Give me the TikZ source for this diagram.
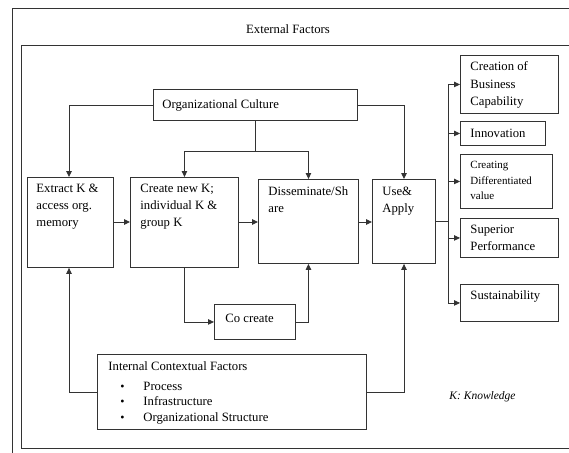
\documentclass[tikz,border=0pt]{standalone}
\usepackage{fontspec}
\setmainfont{Liberation Serif}
\usetikzlibrary{arrows.meta}

\begin{document}
\begin{tikzpicture}[x=1pt,y=-1pt,
  line width=0.9pt,
  ln/.style={draw=black!80},
  arr/.style={draw=black!80,-{Triangle[length=6pt,width=5.5pt]}},
  frame/.style={draw=black!80,anchor=north west,inner sep=0pt},
  txt/.style={anchor=north west,inner sep=0pt,align=left,font=\fontsize{12.7}{17.2}\selectfont},
  stxt/.style={anchor=north west,inner sep=0pt,align=left,font=\fontsize{11}{15.5}\selectfont},
  ltxt/.style={anchor=west,inner sep=0pt,font=\fontsize{12.7}{17.2}\selectfont}]

\clip (0,0) rectangle (569,452);
\useasboundingbox (0,0) rectangle (569,452);
\fill[white] (0,0) rectangle (569,452);

% surrounding frames
\draw[ln] (12,8) rectangle (620,500);
\node[ltxt,anchor=center] (ext) at (288,29) {External Factors};
\draw[ln] (21,45) rectangle (610,448);

% main boxes
\node[frame,minimum width=204pt,minimum height=31pt] (oc) at (153,89) {};
\node[ltxt] (octxt) at (162,105) {Organizational Culture};

\node[frame,minimum width=86pt,minimum height=90pt] (ex) at (27,177) {};
\node[txt] (extxt) at (36,183.5) {Extract K \&\\access org.\\memory};

\node[frame,minimum width=108pt,minimum height=90pt] (cr) at (130,177) {};
\node[txt] (crtxt) at (140,183.5) {Create new K;\\individual K \&\\group K};

\node[frame,minimum width=100pt,minimum height=84pt] (ds) at (258,179) {};
\node[txt] (dstxt) at (268,186.5) {Disseminate/Sh\\are};

\node[frame,minimum width=63pt,minimum height=84pt] (ua) at (372,179) {};
\node[txt] (uatxt) at (382,186.5) {Use\&\\Apply};

\node[frame,minimum width=81pt,minimum height=35pt] (cc) at (214,304) {};
\node[ltxt] (cctxt) at (225,318) {Co create};

\node[frame,minimum width=269pt,minimum height=75pt] (ic) at (97,354) {};
\node[txt] (ictxt) at (108,361.5) {Internal Contextual Factors};
\node[txt,font=\fontsize{12.7}{15.5}\selectfont] (iclist) at (120,381.5)
  {\makebox[23pt][l]{\large\textbullet}Process\\
   \makebox[23pt][l]{\large\textbullet}Infrastructure\\
   \makebox[23pt][l]{\large\textbullet}Organizational Structure};

% outcome boxes
\node[frame,minimum width=98pt,minimum height=58pt] (o1) at (460,55) {};
\node[txt] (o1txt) at (470,61.5) {Creation of\\Business\\Capability};
\node[frame,minimum width=85pt,minimum height=24pt] (o2) at (460,121) {};
\node[ltxt] (o2txt) at (470,133) {Innovation};
\node[frame,minimum width=92pt,minimum height=54pt] (o3) at (460,154) {};
\node[stxt] (o3txt) at (470,161) {Creating\\Differentiated\\value};
\node[frame,minimum width=98pt,minimum height=39pt] (o4) at (460,218) {};
\node[txt] (o4txt) at (470,224.5) {Superior\\Performance};
\node[frame,minimum width=98pt,minimum height=37pt] (o5) at (460,284) {};
\node[txt] (o5txt) at (470,290.5) {Sustainability};

\node[ltxt,font=\fontsize{11.5}{13}\selectfont\itshape] (key) at (449,397) {K: Knowledge};

% culture feeds the process boxes
\coordinate (ocl) at (69,105);
\coordinate (ocr) at (404,105);
\coordinate (ocj) at (255,151);
\draw[arr] (oc.west |- ocl) -- (ocl) -- (ex.north -| ocl);
\draw[arr] (oc.east |- ocr) -- (ocr) -- (ua.north -| ocr);
\draw[ln] (oc.south -| ocj) -- (ocj);
\draw[arr] (ocj) -| (cr.north);
\draw[arr] (ocj) -| (ds.north);

% process chain
\draw[arr] (ex.east |- 0,222) -- (cr.west |- 0,222);
\draw[arr] (cr.east |- 0,222) -- (ds.west |- 0,222);
\draw[arr] (ds.east |- 0,222) -- (ua.west |- 0,222);

% co-creation loop
\draw[arr] (cr.south) |- (cc.west);
\draw[arr] (cc.east) -| (ds.south);

% internal factors feed the process boxes
\coordinate (icl) at (69,392);
\coordinate (icr) at (404,392);
\draw[arr] (ic.west |- icl) -- (icl) -- (ex.south -| icl);
\draw[arr] (ic.east |- icr) -- (icr) -- (ua.south -| icr);

% outcomes bus
\coordinate (bus) at (448,221);
\draw[ln] (ua.east |- bus) -- (bus);
\draw[ln] (bus |- o1.west) -- (bus |- o5.west);
\foreach \o in {o1,o2,o3,o4,o5}
  \draw[arr] (bus |- \o.west) -- (\o.west);
\end{tikzpicture}
\end{document}
